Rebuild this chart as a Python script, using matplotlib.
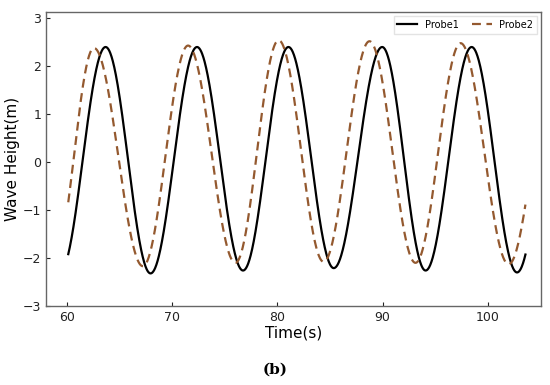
import numpy as np
import matplotlib
matplotlib.use("Agg")
import matplotlib.pyplot as plt

# Extrema (time, height); first/last entries lie just outside the plotted span
probe1_t = [59.3, 63.65, 67.93, 72.35, 76.73, 81.05, 85.36, 89.97, 94.10, 98.48, 102.80, 107.2]
probe1_h = [-2.30, 2.39, -2.32, 2.39, -2.26, 2.39, -2.21, 2.39, -2.26, 2.39, -2.30, 2.39]
probe2_t = [58.75, 62.54, 67.20, 71.50, 76.00, 80.12, 84.40, 88.76, 93.14, 97.43, 102.00, 106.6]
probe2_h = [-2.10, 2.37, -2.17, 2.42, -2.10, 2.53, -2.08, 2.51, -2.10, 2.47, -2.13, 2.47]
t_start, t_end = 60.1, 103.6

x_ticks = [60, 70, 80, 90, 100]
y_ticks = [-3, -2, -1, 0, 1, 2, 3]


def smooth_wave(te, he, t0, t1, n=1500):
    """Half-cosine segments joining consecutive extrema."""
    t = np.linspace(t0, t1, n)
    te = np.asarray(te); he = np.asarray(he)
    idx = np.clip(np.searchsorted(te, t) - 1, 0, len(te) - 2)
    f = (t - te[idx]) / (te[idx + 1] - te[idx])
    w = (1 - np.cos(np.pi * f)) / 2
    y = he[idx] + (he[idx + 1] - he[idx]) * w
    return t, y


fig = plt.figure(figsize=(5.5, 3.85), dpi=100)
ax = fig.add_axes([0.084, 0.205, 0.9, 0.764])

t1, y1 = smooth_wave(probe1_t, probe1_h, t_start, t_end)
t2, y2 = smooth_wave(probe2_t, probe2_h, t_start, t_end)
ax.plot(t1, y1, color="black", lw=1.6, label="Probe1")
ax.plot(t2, y2, color="#94592f", lw=1.6, ls=(0, (4, 2.5)), label="Probe2")

ax.set_xlim(58.0, 105.1)
ax.set_ylim(-3, 3.12)
ax.set_xticks(x_ticks)
ax.set_yticks(y_ticks)
ax.tick_params(direction="in", length=3, labelsize=9, colors="#222222")
for s in ax.spines.values():
    s.set_color("#666666")
    s.set_linewidth(1.0)

ax.set_xlabel("Time(s)", fontsize=11, labelpad=1)
ax.set_ylabel("Wave Height(m)", fontsize=11, labelpad=2)

leg = ax.legend(loc="upper right", ncol=2, fontsize=7, frameon=True,
                handlelength=2.0, columnspacing=1.4, borderaxespad=0.4,
                fancybox=False, edgecolor="#dddddd")

fig.text(0.5, 0.04, "(b)", ha="center", va="center", fontsize=11,
         fontweight="bold", family="DejaVu Serif")

fig.savefig("out.png", dpi=100)
